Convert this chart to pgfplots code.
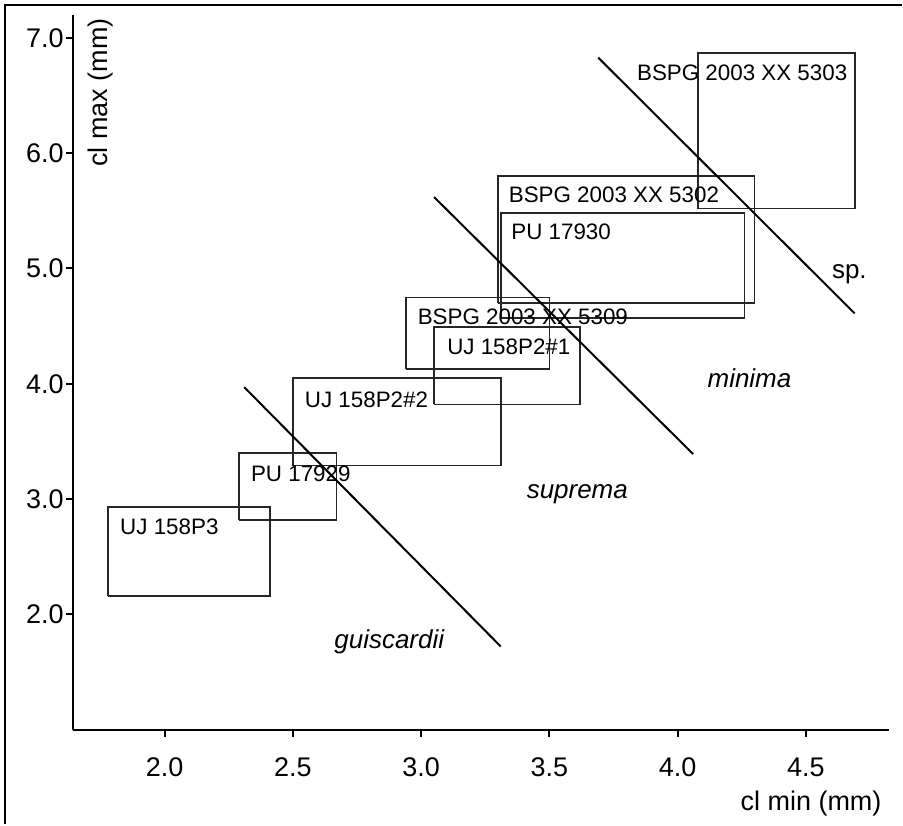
\documentclass[border=0pt]{standalone}
\usepackage{fontspec}
\setmainfont{Liberation Sans}
\usepackage{pgfplots}
\pgfplotsset{compat=1.18}

\pgfplotsset{
  box/.style={color=black!85, line width=0.8pt, mark=none},
  divider/.style={black, line width=1pt, mark=none},
}
\newcommand{\lab}{\fontsize{11.2}{13}\selectfont}

\begin{document}
\begin{tikzpicture}
\begin{axis}[
    scale only axis,
    width=408.5pt, height=358pt,
    xmin=1.642, xmax=4.823,
    ymin=0.995, ymax=7.2,
    axis lines=left,
    axis line style={line width=1pt, -},
    xtick={2,2.5,3,3.5,4,4.5},
    ytick={2,3,4,5,6,7},
    tick align=outside,
    major tick length=3.5pt,
    tick style={line width=1pt, black},
    /pgf/number format/assume math mode=true,
    /pgf/number format/fixed,
    /pgf/number format/fixed zerofill,
    /pgf/number format/precision=1,
    tick label style={font=\fontsize{13.5}{15}\selectfont},
    xticklabel style={yshift=-7pt},
    yticklabel style={inner sep=1pt},
    clip=false,
]
% specimen ranges (cl min x cl max)
\addplot[box] coordinates {(1.78,2.16) (2.41,2.16) (2.41,2.93) (1.78,2.93) (1.78,2.16)};
\addplot[box] coordinates {(2.29,2.82) (2.67,2.82) (2.67,3.40) (2.29,3.40) (2.29,2.82)};
\addplot[box] coordinates {(2.50,3.29) (3.31,3.29) (3.31,4.05) (2.50,4.05) (2.50,3.29)};
\addplot[box] coordinates {(2.94,4.13) (3.50,4.13) (3.50,4.75) (2.94,4.75) (2.94,4.13)};
\addplot[box] coordinates {(3.05,3.82) (3.62,3.82) (3.62,4.49) (3.05,4.49) (3.05,3.82)};
\addplot[box] coordinates {(3.30,4.70) (4.30,4.70) (4.30,5.80) (3.30,5.80) (3.30,4.70)};
\addplot[box] coordinates {(3.31,4.57) (4.26,4.57) (4.26,5.48) (3.31,5.48) (3.31,4.57)};
\addplot[box] coordinates {(4.08,5.52) (4.69,5.52) (4.69,6.87) (4.08,6.87) (4.08,5.52)};

% species boundaries
\addplot[divider] coordinates {(2.31,3.97) (3.31,1.72)};
\addplot[divider] coordinates {(3.05,5.62) (4.06,3.39)};
\addplot[divider] coordinates {(3.69,6.83) (4.69,4.61)};

\begin{scope}[every node/.style={anchor=west, inner sep=0pt, font=\lab}]
\node at (axis cs:3.84,6.70) {BSPG 2003 XX 5303};
\node at (axis cs:3.34,5.64) {BSPG 2003 XX 5302};
\node at (axis cs:3.35,5.32) {PU 17930};
\node at (axis cs:2.985,4.58) {BSPG 2003 XX 5309};
\node at (axis cs:3.10,4.32) {UJ 158P2\#1};
\node at (axis cs:2.545,3.86) {UJ 158P2\#2};
\node at (axis cs:2.335,3.22) {PU 17929};
\node at (axis cs:1.825,2.76) {UJ 158P3};
\end{scope}
\begin{scope}[every node/.style={anchor=west, inner sep=0pt, font=\fontsize{13}{15}\selectfont}]
\node at (axis cs:4.60,4.95) {sp.};
\node at (axis cs:4.115,4.05) {\itshape minima};
\node at (axis cs:3.41,3.04) {\itshape suprema};
\node at (axis cs:2.66,1.76) {\itshape guiscardii};
\end{scope}

\node[rotate=90, anchor=north east, inner sep=0pt, font=\fontsize{13.5}{15}\selectfont]
  at ([xshift=7.5pt, yshift=-1.5pt]rel axis cs:0,1) {cl max (mm)};
\node[anchor=east, inner sep=0pt, font=\fontsize{13.5}{15}\selectfont]
  at ([xshift=-3.5pt, yshift=-37pt]rel axis cs:1,0) {cl min (mm)};

% outer frame (left and top only) and page extent
\draw[line width=1.2pt] ([xshift=-34pt, yshift=-47pt]rel axis cs:0,0)
  |- ([xshift=6.5pt, yshift=5pt]rel axis cs:1,1);
\path ([xshift=-36.5pt, yshift=-47pt]rel axis cs:0,0)
  rectangle ([xshift=6.5pt, yshift=7.5pt]rel axis cs:1,1);
\end{axis}
\end{tikzpicture}
\end{document}
